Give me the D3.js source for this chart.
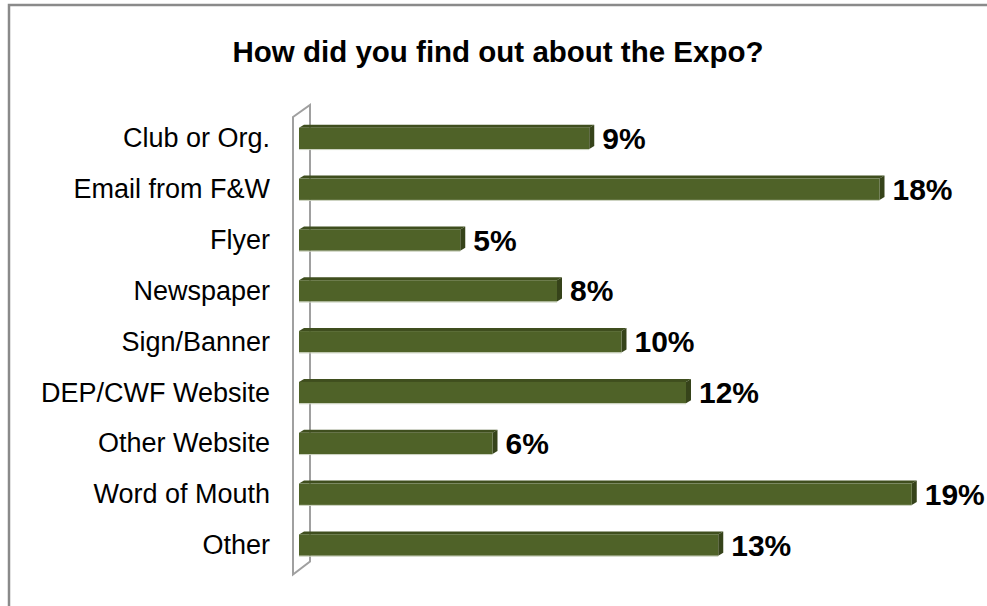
<!DOCTYPE html>
<html>
<head>
<meta charset="utf-8">
<script src="https://cdn.jsdelivr.net/npm/d3@7"></script>
<style>
  html, body { margin: 0; padding: 0; background: #fff; }
  svg { display: block; font-family: "Liberation Sans", Arial, sans-serif; }
</style>
</head>
<body>
<svg id="chart" width="987" height="606"></svg>
<script>
const title = "How did you find out about the Expo?";
const categories = ["Club or Org.", "Email from F&W", "Flyer", "Newspaper", "Sign/Banner",
                    "DEP/CWF Website", "Other Website", "Word of Mouth", "Other"];
const values = [9, 18, 5, 8, 10, 12, 6, 19, 13];
const valueLabels = ["9%", "18%", "5%", "8%", "10%", "12%", "6%", "19%", "13%"];

const svg = d3.select("#chart");
const W = 987, H = 606;

// outer chart border (extends past right/bottom edge)
svg.append("rect")
  .attr("x", 9).attr("y", 5).attr("width", W + 20).attr("height", H + 20)
  .attr("fill", "#fff").attr("stroke", "#8a8a8a").attr("stroke-width", 2.5);

// title
svg.append("text")
  .attr("x", 498).attr("y", 62)
  .attr("text-anchor", "middle")
  .attr("font-size", 29.5).attr("font-weight", "bold").attr("fill", "#000")
  .text(title);

const y = d3.scaleBand().domain(categories).range([113, 570.5])
  .paddingInner(0.58).paddingOuter(0.29);
const x = d3.scaleLinear().domain([0, 20]).range([299, 944]);

const dx = 5, dy = 3;

// back/side wall of 3D plot
const wallTop = y.range()[0], wallBot = y.range()[1];
svg.append("path")
  .attr("d", `M293,${wallTop + 4} L310,${wallTop - 8} L310,${wallBot - 9} L293,${wallBot + 4} Z`)
  .attr("fill", "#fff").attr("stroke", "#a0a0a0").attr("stroke-width", 2);

// category axis labels
svg.append("g").selectAll("text").data(categories).join("text")
  .attr("x", 270)
  .attr("y", d => y(d) + y.bandwidth() / 2 + 9)
  .attr("text-anchor", "end")
  .attr("font-size", 27).attr("fill", "#000")
  .text(d => d);

const rows = categories.map((c, i) => ({ c, v: values[i], lab: valueLabels[i] }));
const bars = svg.append("g").selectAll("g").data(rows).join("g");

// top face
bars.append("path")
  .attr("d", d => {
    const y0 = y(d.c), x0 = x(0), x1 = x(d.v);
    return `M${x0},${y0} L${x0 + dx},${y0 - dy} L${x1 + dx},${y0 - dy} L${x1},${y0} Z`;
  })
  .attr("fill", "#3f4e1e");
// side face
bars.append("path")
  .attr("d", d => {
    const y0 = y(d.c), x1 = x(d.v), h = y.bandwidth();
    return `M${x1},${y0} L${x1 + dx},${y0 - dy} L${x1 + dx},${y0 + h - dy} L${x1},${y0 + h} Z`;
  })
  .attr("fill", "#36431a");
// front face
bars.append("rect")
  .attr("x", x(0))
  .attr("y", d => y(d.c))
  .attr("width", d => x(d.v) - x(0))
  .attr("height", y.bandwidth())
  .attr("fill", "#4f6228");
// faint light edge at bottom
bars.append("line")
  .attr("x1", x(0)).attr("x2", d => x(d.v))
  .attr("y1", d => y(d.c) + y.bandwidth() + 0.5)
  .attr("y2", d => y(d.c) + y.bandwidth() + 0.5)
  .attr("stroke", "#c9d0bc").attr("stroke-width", 1);

// value labels
bars.append("text")
  .attr("x", d => x(d.v) + dx + 8)
  .attr("y", d => y(d.c) + y.bandwidth() / 2 + 10.5)
  .attr("font-size", 30).attr("font-weight", "bold").attr("fill", "#000")
  .text(d => d.lab);
</script>
</body>
</html>
